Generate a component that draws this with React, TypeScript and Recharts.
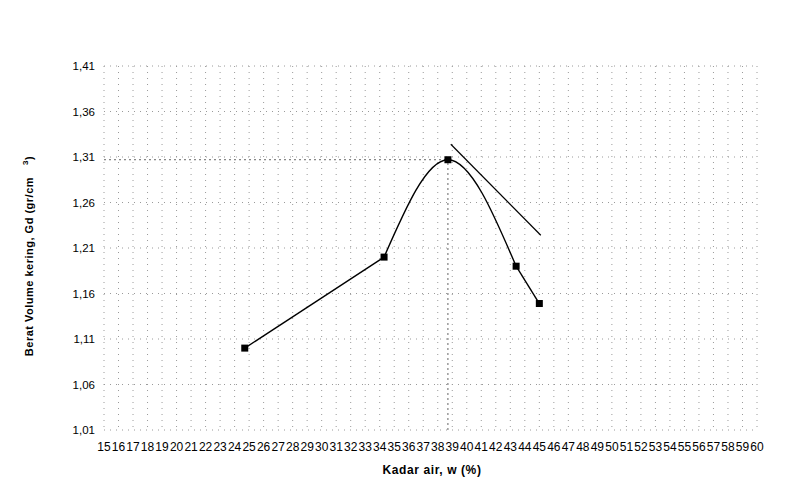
import React from 'react';
import {
  ComposedChart, Line, Scatter, XAxis, YAxis, CartesianGrid, ReferenceLine,
} from 'recharts';

// titik hasil uji pemadatan
const kadarAir = [24.7, 34.3, 38.7, 43.4, 45.0];
const beratVolume = [1.10, 1.20, 1.307, 1.19, 1.149];

// garis singgung di sisi basah
const tangentW = [38.9, 45.1];
const tangentGd = [1.324, 1.224];

const xTicks = [
  15, 16, 17, 18, 19, 20, 21, 22, 23, 24, 25, 26, 27, 28, 29, 30, 31, 32, 33, 34, 35, 36, 37,
  38, 39, 40, 41, 42, 43, 44, 45, 46, 47, 48, 49, 50, 51, 52, 53, 54, 55, 56, 57, 58, 59, 60,
];
const yTicks = [1.01, 1.06, 1.11, 1.16, 1.21, 1.26, 1.31, 1.36, 1.41];

const points = kadarAir.map((w, i) => ({ w, gd: beratVolume[i] }));
const tangent = tangentW.map((w, i) => ({ w, gd: tangentGd[i] }));
const peak = points[2];

const font = '"Liberation Sans", Arial, sans-serif';

const Square = (p: any) => (
  <rect x={p.cx - 3.5} y={p.cy - 3.5} width={7} height={7} fill="#000" />
);

export default function App() {
  return (
    <div style={{ position: 'absolute', left: 0, top: 0, background: '#fff' }}>
      <ComposedChart
        width={795}
        height={496}
        margin={{ top: 66, right: 38, left: 44, bottom: 26 }}
        style={{ fontFamily: font }}
      >
        <CartesianGrid stroke="#9a9a9a" strokeDasharray="1 5" />
        <XAxis
          type="number"
          dataKey="w"
          domain={[15, 60]}
          ticks={xTicks}
          interval={0}
          axisLine={false}
          tickLine={false}
          tickMargin={6}
          height={40}
          tick={{ fill: '#000', fontSize: 12 }}
          allowDataOverflow
        />
        <YAxis
          type="number"
          dataKey="gd"
          domain={[1.01, 1.41]}
          ticks={yTicks}
          interval={0}
          axisLine={false}
          tickLine={false}
          tickMargin={3}
          width={60}
          tick={{ fill: '#000', fontSize: 11.5 }}
          tickFormatter={(v: number) => v.toFixed(2).replace('.', ',')}
          allowDataOverflow
        />
        <ReferenceLine
          segment={[{ x: 15, y: peak.gd }, { x: peak.w, y: peak.gd }]}
          stroke="#666"
          strokeDasharray="2 3"
        />
        <ReferenceLine
          segment={[{ x: peak.w, y: 1.01 }, { x: peak.w, y: peak.gd }]}
          stroke="#666"
          strokeDasharray="2 3"
        />
        <Line
          data={points.slice(0, 2)}
          dataKey="gd"
          type="linear"
          stroke="#000"
          strokeWidth={1.4}
          dot={false}
          isAnimationActive={false}
        />
        <Line
          data={points.slice(1, 4)}
          dataKey="gd"
          type="monotone"
          stroke="#000"
          strokeWidth={1.4}
          dot={false}
          isAnimationActive={false}
        />
        <Line
          data={points.slice(3, 5)}
          dataKey="gd"
          type="linear"
          stroke="#000"
          strokeWidth={1.4}
          dot={false}
          isAnimationActive={false}
        />
        <Line
          data={tangent}
          dataKey="gd"
          type="linear"
          stroke="#000"
          strokeWidth={1.2}
          dot={false}
          isAnimationActive={false}
        />
        <Scatter data={points} dataKey="gd" shape={Square} isAnimationActive={false} />
      </ComposedChart>
      <svg
        width={795}
        height={496}
        style={{ position: 'absolute', left: 0, top: 0, pointerEvents: 'none', fontFamily: font }}
      >
        <text
          x={432}
          y={474}
          textAnchor="middle"
          fontSize={12}
          fontWeight="bold"
          letterSpacing={0.6}
          fill="#000"
        >
          Kadar air, w (%)
        </text>
        <text
          transform="translate(33, 256) rotate(-90)"
          textAnchor="middle"
          fontSize={11}
          fontWeight="bold"
          letterSpacing={0.5}
          fill="#000"
        >
          Berat Volume kering, Gd (gr/cm
          <tspan dx={12} dy={-5} fontSize={8}>3</tspan>
          <tspan dy={5}>)</tspan>
        </text>
      </svg>
    </div>
  );
}
